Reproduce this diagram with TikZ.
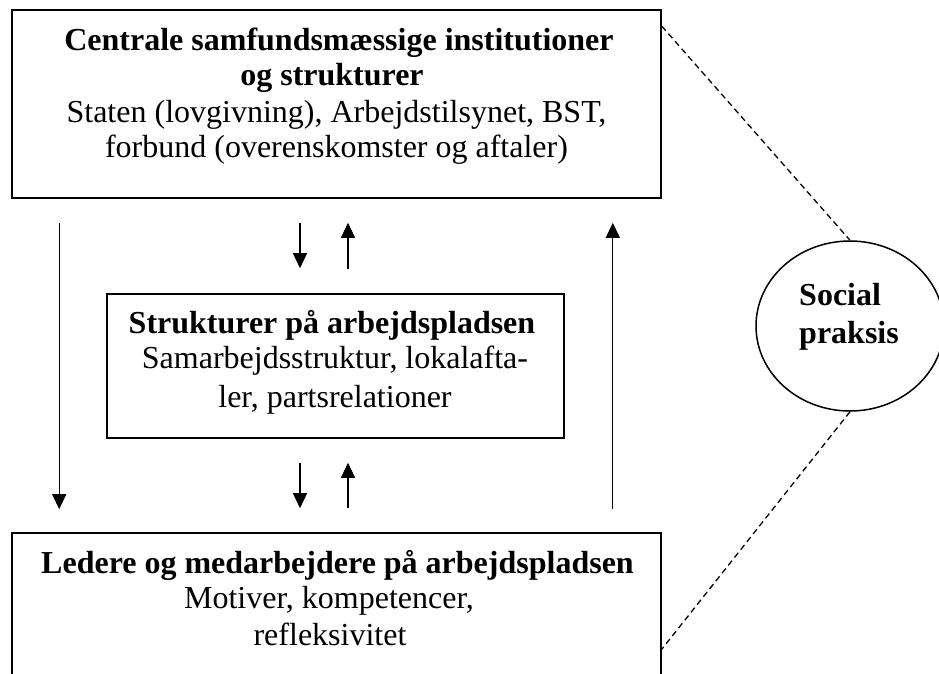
\documentclass[tikz,border=0pt]{standalone}
\usepackage{fontspec}
\setmainfont{Liberation Serif}
\usetikzlibrary{arrows.meta,shapes.geometric,calc}
\begin{document}
\begin{tikzpicture}[x=1pt,y=-1pt,
  box/.style={draw,line width=1.6pt,inner sep=0pt,rectangle},
  lbl/.style={anchor=base,inner sep=0pt,font=\fontsize{32}{36}\selectfont},
  hd/.style={anchor=base,inner sep=0pt,font=\fontsize{32}{36}\selectfont\bfseries},
  arr/.style={line width=1.3pt,-{Triangle[length=15pt,width=14pt]}},
  dashline/.style={line width=1.3pt,dash pattern=on 6pt off 4pt}]
\useasboundingbox (0,0) rectangle (939,673);
\clip (0,0) rectangle (939,673);
% boxes
\node[box,minimum width=649pt,minimum height=188pt] (top) at (336.5,104) {};
\node[box,minimum width=457pt,minimum height=144pt] (mid) at (335.5,366) {};
\node[box,minimum width=649pt,minimum height=220pt] (bot) at (336.5,643) {};
\node[draw,ellipse,line width=1.5pt,minimum width=188pt,minimum height=170pt,inner sep=0pt] (soc) at (850,326) {};
% texts
\node[hd] (t1) at (339,50) {Centrale samfundsmæssige institutioner};
\node[hd] (t2) at (332,85) {og strukturer};
\node[lbl] (t3) at (336.5,122) {Staten (lovgivning), Arbejdstilsynet, BST,};
\node[lbl] (t4) at (336.5,157) {forbund (overenskomster og aftaler)};
\node[hd] (m1) at (332,333) {Strukturer på arbejdspladsen};
\node[lbl] (m2) at (335,368) {Samarbejdsstruktur, lokalafta-};
\node[lbl] (m3) at (335,407) {ler, partsrelationer};
\node[hd] (b1) at (337.5,573) {Ledere og medarbejdere på arbejdspladsen};
\node[lbl] (b2) at (329,608) {Motiver, kompetencer,};
\node[lbl] (b3) at (330,645) {refleksivitet};
\node[hd,anchor=base west] (s1) at (799,305) {Social};
\node[hd,anchor=base west] (s2) at (799,343) {praksis};
% arrow end points
\coordinate (L1) at ($(top.south west)+(48,24)$);
\coordinate (L2) at ($(bot.north west)+(48,-23)$);
\coordinate (R1) at ($(bot.north east)+(-49,-23)$);
\coordinate (R2) at ($(top.south east)+(-49,24)$);
\coordinate (A1) at ($(top.south)+(-36.5,24)$);
\coordinate (A2) at ($(mid.north)+(-35.5,-25)$);
\coordinate (B1) at ($(mid.north)+(12.5,-24)$);
\coordinate (B2) at ($(top.south)+(11.5,24)$);
\coordinate (C1) at ($(mid.south)+(-35.5,24)$);
\coordinate (C2) at ($(bot.north)+(-36.5,-24)$);
\coordinate (D1) at ($(bot.north)+(11.5,-24)$);
\coordinate (D2) at ($(mid.south)+(12.5,24)$);
\coordinate (E1) at ($(top.north east)+(0,17)$);
\coordinate (E2) at ($(bot.north east)+(0,117)$);
% arrows
\draw[arr] (L1) -- (L2);
\draw[arr] (R1) -- (R2);
\draw[arr] (A1) -- (A2);
\draw[arr] (B1) -- (B2);
\draw[arr] (C1) -- (C2);
\draw[arr] (D1) -- (D2);
% dashed links
\draw[dashline] (E1) -- (soc.north);
\draw[dashline] (soc.south) -- (E2);
\end{tikzpicture}
\end{document}
